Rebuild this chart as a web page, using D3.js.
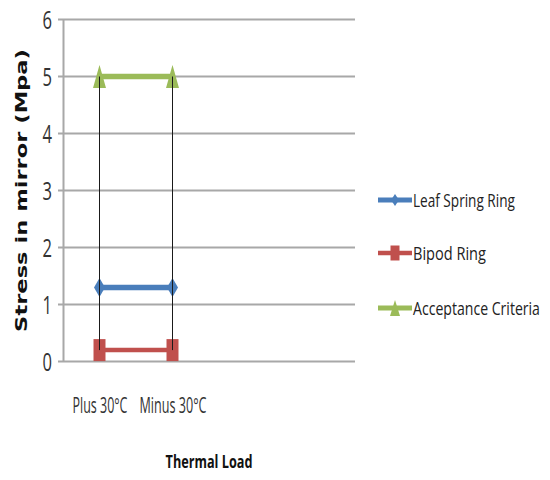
<!DOCTYPE html>
<html>
<head>
<meta charset="utf-8">
<script src="https://cdn.jsdelivr.net/npm/d3@7/dist/d3.min.js"></script>
<style>
  html, body { margin: 0; padding: 0; background: #fff; }
  svg { display: block; }
  .narrow { font-family: "Liberation Sans Narrow", "Open Sans", "DejaVu Sans Condensed", sans-serif; }
</style>
</head>
<body>
<svg id="chart" width="550" height="480"></svg>
<script>
// Stress in the mirror under thermal load, per mounting design
const categories = ["Plus 30°C", "Minus 30°C"];
const seriesNames = ["Leaf Spring Ring", "Bipod Ring", "Acceptance Criteria"];
const leafSpringRing = [1.3, 1.3];
const bipodRing = [0.2, 0.2];
const acceptanceCriteria = [5, 5];
const yTicks = [0, 1, 2, 3, 4, 5, 6];
const seriesColors = ["#4a7ebb", "#c0504d", "#9bbb59"];
const seriesMarkers = ["diamond", "square", "triangle"];

const seriesValues = [leafSpringRing, bipodRing, acceptanceCriteria];

// Plot frame
const plot = { left: 63, right: 355, top: 19.5, bottom: 361.5 };
const categorySlots = 4; // the category axis leaves room for four slots

const svg = d3.select("#chart");

// Squeeze a text horizontally to a given width, keeping its anchor point
function squash(sel, widthFn, extra = "") {
  sel.each(function (d, i) {
    const t = d3.select(this);
    const x0 = +t.attr("x") || 0, y0 = +t.attr("y") || 0;
    const natural = this.getComputedTextLength();
    const sx = widthFn(d, i) / natural;
    t.attr("x", 0).attr("y", 0)
      .attr("transform", `${extra} translate(${x0},${y0}) scale(${sx},1)`);
  });
}

const x = d3.scaleBand()
  .domain(d3.range(categorySlots))
  .range([plot.left, plot.right]);
const cx = i => x(i) + x.bandwidth() / 2;

const y = d3.scaleLinear()
  .domain([0, 6])
  .range([plot.bottom, plot.top]);

// Horizontal gridlines
svg.append("g")
  .selectAll("line")
  .data(yTicks)
  .join("line")
  .attr("x1", plot.left - 5)
  .attr("x2", plot.right)
  .attr("y1", d => y(d))
  .attr("y2", d => y(d))
  .attr("stroke", "#a8a8a8")
  .attr("stroke-width", 2);

// Value axis
const yAxis = svg.append("g")
  .attr("transform", `translate(${plot.left},0)`)
  .call(d3.axisLeft(y).tickValues(yTicks).tickSize(0).tickPadding(11).tickFormat(d3.format("d")));
yAxis.select(".domain").attr("stroke", "#a8a8a8").attr("stroke-width", 2);
yAxis.selectAll("text")
  .attr("class", "narrow")
  .attr("font-size", 25)
  .attr("dy", null)
  .attr("y", 9)
  .attr("fill", "#333")
  .call(squash, () => 9.5);

// Category axis labels, one per filled slot
const xCat = d3.scaleOrdinal()
  .domain(categories)
  .range(categories.map((c, i) => cx(i)));
const xAxis = svg.append("g")
  .attr("transform", `translate(0,${plot.bottom})`)
  .call(d3.axisBottom(xCat).tickSize(0));
xAxis.select(".domain").remove();
const xLabelWidths = [55, 67];
xAxis.selectAll("text")
  .attr("class", "narrow")
  .attr("font-size", 21)
  .attr("dy", null)
  .attr("y", 51.5)
  .attr("fill", "#333")
  .call(squash, (d, i) => xLabelWidths[i]);

// Marker shapes, drawn taller than wide
function markerPath(kind, w, h) {
  const a = w / 2, b = h / 2;
  if (kind === "diamond") return `M0,${-b}L${a},0L0,${b}L${-a},0Z`;
  if (kind === "square") return `M${-a},${-b}H${a}V${b}H${-a}Z`;
  return `M0,${-b}L${a},${b}H${-a}Z`;
}
const markerSize = {
  diamond: [11, 19],
  square: [12, 22],
  triangle: [13, 23]
};

const line = d3.line().x((d, i) => cx(i)).y(d => y(d));

seriesValues.forEach((vals, s) => {
  const g = svg.append("g");
  g.append("path")
    .datum(vals)
    .attr("d", line)
    .attr("fill", "none")
    .attr("stroke", seriesColors[s])
    .attr("stroke-width", s === 1 ? 4.5 : 5.5);
  const [mw, mh] = markerSize[seriesMarkers[s]];
  g.selectAll("path.m")
    .data(vals)
    .join("path")
    .attr("class", "m")
    .attr("transform", (d, i) => `translate(${cx(i)},${y(d)})`)
    .attr("d", markerPath(seriesMarkers[s], mw, mh))
    .attr("fill", seriesColors[s]);
});

// High-low lines joining the series at each category
svg.append("g")
  .selectAll("line")
  .data(categories.map((c, i) => i))
  .join("line")
  .attr("x1", i => cx(i))
  .attr("x2", i => cx(i))
  .attr("y1", i => y(d3.max(seriesValues, v => v[i])))
  .attr("y2", i => y(d3.min(seriesValues, v => v[i])))
  .attr("stroke", "#1a1a1a")
  .attr("stroke-width", 1);

// Axis titles
svg.append("text")
  .attr("text-anchor", "middle")
  .attr("font-family", "'DejaVu Sans', Verdana, sans-serif")
  .attr("font-weight", "bold")
  .attr("font-size", 16)
  .attr("fill", "#111")
  .text("Stress  in mirror (Mpa)")
  .call(squash, () => 283, `translate(27,${(plot.top + plot.bottom) / 2}) rotate(-90)`);

svg.append("text")
  .attr("class", "narrow")
  .attr("x", (plot.left + plot.right) / 2)
  .attr("y", 468)
  .attr("text-anchor", "middle")
  .attr("font-weight", "bold")
  .attr("font-size", 18)
  .attr("fill", "#111")
  .text("Thermal Load")
  .call(squash, () => 87);

// Legend
const legendRows = [200, 253, 308];
const legendTextWidths = [102, 73, 127];
const legend = svg.append("g");
seriesNames.forEach((name, s) => {
  const row = legend.append("g").attr("transform", `translate(378,${legendRows[s]})`);
  row.append("line")
    .attr("x1", 0).attr("x2", 34)
    .attr("stroke", seriesColors[s])
    .attr("stroke-width", s === 1 ? 4.5 : 5);
  const lm = { diamond: [8, 12], square: [9, 15], triangle: [10, 16] }[seriesMarkers[s]];
  row.append("path")
    .attr("transform", "translate(17,0)")
    .attr("d", markerPath(seriesMarkers[s], lm[0], lm[1]))
    .attr("fill", seriesColors[s]);
  row.append("text")
    .attr("class", "narrow")
    .attr("x", 35)
    .attr("y", 6.5)
    .attr("font-size", 18)
    .attr("fill", "#222")
    .text(name)
    .call(squash, () => legendTextWidths[s]);
});
</script>
</body>
</html>
